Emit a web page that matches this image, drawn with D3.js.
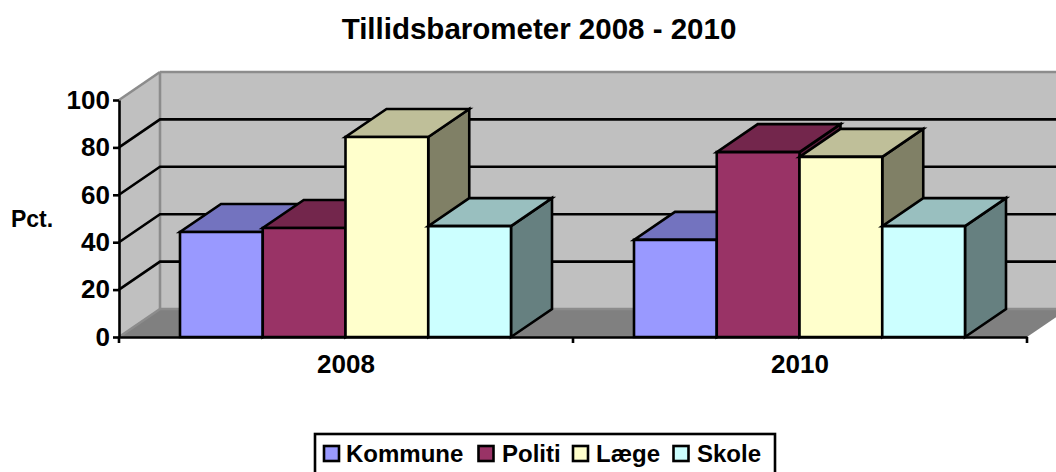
<!DOCTYPE html>
<html>
<head>
<meta charset="utf-8">
<script src="https://cdn.jsdelivr.net/npm/d3@7"></script>
<style>
html, body { margin: 0; padding: 0; background: #fff; overflow: hidden; }
text { font-family: "Liberation Sans", Arial, sans-serif; font-weight: bold; fill: #000; }
</style>
</head>
<body>
<div id="chart"></div>
<script>
// values
var years = ["2008", "2010"];
var seriesNames = ["Kommune", "Politi", "Læge", "Skole"];
var kommune = [44.3, 41];
var politi = [46, 78];
var laege = [84.4, 76];
var skole = [46.8, 46.8];
var yTicks = [0, 20, 40, 60, 80, 100];
var seriesValues = [kommune, politi, laege, skole];

var front = ["#9999FF", "#993366", "#FFFFCC", "#CCFFFF"];
var tops = ["#7373BF", "#73264C", "#BFBF99", "#99BFBF"];
var sides = ["#7A7ACC", "#5C1F3D", "#808066", "#668080"];

var width = 1056, height = 472;
var left = 119, right = 1027, top0 = 100, bottom = 337;
var depthX = 41, depthY = -28;
var lineW = 2.6;

var svg = d3.select("#chart").append("svg")
    .attr("width", width)
    .attr("height", height)
    .style("display", "block");

var x = d3.scaleBand().domain(years).range([left, right]);
var y = d3.scaleLinear().domain([0, 100]).range([bottom, top0]);
// bars take up the middle of each category
var inner = d3.scaleBand().domain(seriesNames).range([61, x.bandwidth() - 62]);

function poly(pts, fill, stroke, sw) {
    return svg.append("polygon")
        .attr("points", pts.map(function(p) { return p.join(","); }).join(" "))
        .style("fill", fill)
        .style("stroke", stroke)
        .style("stroke-width", sw)
        .style("stroke-linejoin", "miter");
}

// walls and floor
poly([[left, y(0)], [left + depthX, y(0) + depthY], [left + depthX, y(100) + depthY], [left, y(100)]], "#C0C0C0", "none", 0);
poly([[left + depthX, y(0) + depthY], [width + 5, y(0) + depthY], [width + 5, y(100) + depthY], [left + depthX, y(100) + depthY]], "#C0C0C0", "none", 0);
poly([[left, y(0)], [right, y(0)], [right + depthX, y(0) + depthY], [left + depthX, y(0) + depthY]], "#808080", "none", 0);

// wall edges
var wallEdge = [
    [left, y(100), left + depthX, y(100) + depthY],
    [left + depthX, y(100) + depthY, width + 5, y(100) + depthY],
    [left + depthX, y(100) + depthY, left + depthX, y(0) + depthY],
    [left + depthX, y(0) + depthY, width + 5, y(0) + depthY],
    [left, y(0), left + depthX, y(0) + depthY]
];
svg.append("g").selectAll("line")
    .data(wallEdge)
    .enter()
    .append("line")
    .attr("x1", function(d) { return d[0]; })
    .attr("y1", function(d) { return d[1]; })
    .attr("x2", function(d) { return d[2]; })
    .attr("y2", function(d) { return d[3]; })
    .style("stroke", "#8C8C8C")
    .style("stroke-width", lineW);

// gridlines, 100 is the grey wall edge so it gets none
var grid = svg.append("g");
yTicks.filter(function(t) { return t > 0 && t < 100; }).forEach(function(t) {
    grid.append("polyline")
        .attr("points", left + "," + y(t) + " " + (left + depthX) + "," + (y(t) + depthY) + " " + (width + 5) + "," + (y(t) + depthY))
        .style("fill", "none")
        .style("stroke", "#000")
        .style("stroke-width", lineW);
});

// bars, drawn left to right so each one covers the side of the last
years.forEach(function(year, i) {
    seriesNames.forEach(function(name, j) {
        var x0 = x(year) + inner(name);
        var x1 = x0 + inner.bandwidth();
        var yt = y(seriesValues[j][i]);
        var yb = y(0);
        poly([[x1, yb], [x1 + depthX, yb + depthY], [x1 + depthX, yt + depthY], [x1, yt]], sides[j], "#000", lineW);
        poly([[x0, yt], [x1, yt], [x1 + depthX, yt + depthY], [x0 + depthX, yt + depthY]], tops[j], "#000", lineW);
        poly([[x0, yb], [x1, yb], [x1, yt], [x0, yt]], front[j], "#000", lineW);
    });
});

// axes
svg.append("g")
    .attr("transform", "translate(" + left + ",0)")
    .call(d3.axisLeft(y).tickValues(yTicks).tickSize(6).tickSizeOuter(0).tickPadding(3));
var xAxis = svg.append("g")
    .attr("transform", "translate(0," + bottom + ")")
    .call(d3.axisBottom(x).tickSize(0).tickPadding(17.5));
xAxis.selectAll(".cat")
    .data(d3.range(years.length + 1))
    .enter()
    .append("line")
    .attr("class", "cat")
    .attr("x1", function(d) { return left + d * x.bandwidth(); })
    .attr("x2", function(d) { return left + d * x.bandwidth(); })
    .attr("y1", 0)
    .attr("y2", 6)
    .style("stroke", "#000")
    .style("stroke-width", lineW);
svg.selectAll(".domain").style("stroke", "#000").style("stroke-width", lineW);
svg.selectAll(".tick line").style("stroke", "#000").style("stroke-width", lineW);
svg.selectAll(".tick text")
    .style("font-family", '"Liberation Sans", Arial, sans-serif')
    .style("font-weight", "bold")
    .style("font-size", "26px")
    .style("fill", "#000");

// title and axis label
svg.append("text")
    .attr("x", 539)
    .attr("y", 39)
    .attr("text-anchor", "middle")
    .style("font-size", "29.5px")
    .text("Tillidsbarometer 2008 - 2010");
svg.append("text")
    .attr("x", 32)
    .attr("y", 227)
    .attr("text-anchor", "middle")
    .style("font-size", "23px")
    .text("Pct.");

// legend
var swatchX = [324, 478.5, 573, 673.5];
var labelX = [346, 502, 596, 697];
var legend = svg.append("g");
legend.append("rect")
    .attr("x", 315)
    .attr("y", 434)
    .attr("width", 460)
    .attr("height", 45)
    .style("fill", "#fff")
    .style("stroke", "#000")
    .style("stroke-width", lineW);
seriesNames.forEach(function(name, j) {
    legend.append("rect")
        .attr("x", swatchX[j])
        .attr("y", 446)
        .attr("width", 15)
        .attr("height", 15)
        .style("fill", front[j])
        .style("stroke", "#000")
        .style("stroke-width", lineW);
    legend.append("text")
        .attr("x", labelX[j])
        .attr("y", 461.5)
        .style("font-size", "24px")
        .text(name);
});
</script>
</body>
</html>
